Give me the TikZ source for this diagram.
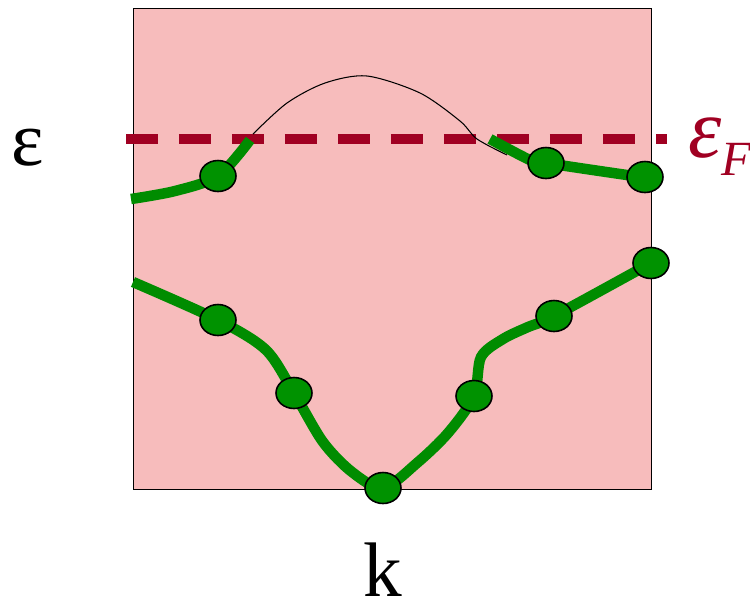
\documentclass[tikz,border=0pt]{standalone}
\usepackage{fontspec}
\setmainfont{Liberation Serif}
\usetikzlibrary{shapes.geometric}
\definecolor{zonepink}{RGB}{247,188,188}
\definecolor{fermired}{RGB}{160,0,34}
\definecolor{bandgreen}{RGB}{0,140,0}
\definecolor{dotgreen}{RGB}{0,146,0}

\begin{document}
\begin{tikzpicture}[x=0.02cm,y=-0.02cm,
  zone/.style={draw=black,line width=0.8pt,fill=zonepink},
  fermi/.style={draw=fermired,line width=2mm,dash pattern=on 6.4mm off 4.2mm},
  band/.style={draw=bandgreen,line width=2.1mm,line cap=butt},
  thin/.style={draw=black,line width=0.6pt},
  dot/.style={ellipse,draw=black,line width=0.9pt,fill=dotgreen,minimum width=7.2mm,minimum height=6.2mm,inner sep=0pt},
  big/.style={font=\fontsize{44}{44}\selectfont,inner sep=0pt,text depth=0pt}]
\useasboundingbox (0,0) rectangle (750,603);
\node[zone,minimum width=10.36cm,minimum height=9.62cm,anchor=north west] (bz) at (133,8) {};
% dot positions
\foreach \n/\x/\y in {u1/218/176,u2/546/163,u3/645/177,
  b1/218/320,b2/294/393,b3/383/488,b4/474/396,b5/554/316,b6/651/263}
  \coordinate (\n) at (\x,\y);
\coordinate (fl) at (126,139);
\coordinate (fr) at (667,139);
\draw[fermi] (fl) -- (fr);
% free-electron parabola
\draw[thin] plot[smooth] coordinates {(253,134) (287,103) (325,83) (367,76) (420,93) (460,121) (477,139) (507,155)};
% bands
\draw[band] plot[smooth] coordinates {(131,199) (175,191) (u1) (250,140)};
\draw[band] plot[smooth] coordinates {(490,139) (530,160) (u2) (627,175) (u3)};
\draw[band] plot[smooth] coordinates {(133,282) (b1) (266,350) (b2) (323,442) (352,472) (b3)
  (417,463) (448,433) (b4) (481,357) (503,339) (528,327) (b5) (b6)};
\foreach \n in {u1,u2,u3,b1,b2,b3,b4,b5,b6}
  \node[dot] (d\n) at (\n) {};
% labels
\node[big,anchor=base] (eps) at (28,165) {ε};
\node[big,anchor=base] (kk) at (383,596) {k};
\node[big,anchor=base west,text=fermired,font=\fontsize{48}{48}\selectfont\itshape] (ef) at (688,157)
  {ε\raisebox{-0.36cm}{\fontsize{28}{28}\selectfont F}};
\end{tikzpicture}
\end{document}
